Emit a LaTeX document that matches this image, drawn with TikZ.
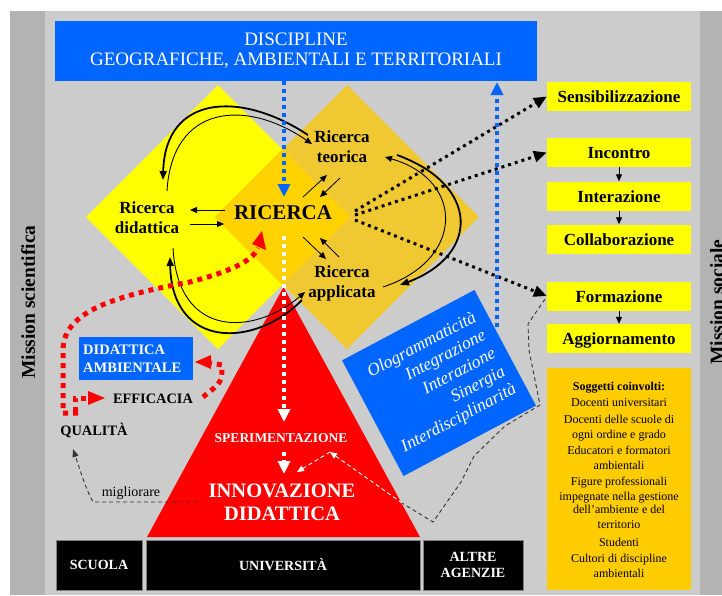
\documentclass[tikz,border=0pt]{standalone}
\usepackage{fontspec}
\setmainfont{Liberation Serif}
\usetikzlibrary{arrows.meta,calc}
\definecolor{bgc}{HTML}{CCCCCC}
\definecolor{stripc}{HTML}{B3B3B3}
\definecolor{blu}{HTML}{0066FF}
\definecolor{yel}{HTML}{FFFF00}
\definecolor{gold}{HTML}{F0C832}
\definecolor{midc}{HTML}{FFD200}
\definecolor{sog}{HTML}{FFCC00}
\newcommand{\fsz}[2]{\fontsize{#1}{#2}\selectfont}
\begin{document}
\begin{tikzpicture}[x=1pt,y=-1pt,
  tipS/.style={-{Triangle[length=7pt,width=6pt]}},
  thinarr/.style={line width=0.8pt,tipS},
  rbox/.style={fill=yel,minimum width=144,minimum height=29,inner sep=0,text height=12,text depth=0,font=\bfseries\fsz{17}{20}},
  bbox/.style={fill=black,draw=gray,line width=0.8pt,minimum height=50,inner sep=0,text=white,align=center,font=\bfseries\fsz{14}{16}},
  bdot/.style={line width=3pt,dash pattern=on 3pt off 4pt,-{Triangle[length=13pt,width=11pt]}},
  bludot/.style={blu,line width=4pt,dash pattern=on 4pt off 4pt,-{Triangle[length=13pt,width=12pt]}},
  whdot/.style={white,line width=4pt,dash pattern=on 4pt off 4pt,-{Triangle[length=13pt,width=12pt]}},
  reddot/.style={red,line width=5pt,dash pattern=on 5pt off 5pt},
  redtip/.style={-{Triangle[length=16pt,width=14pt]}},
  ddash/.style={black!80,line width=0.9pt,dash pattern=on 4pt off 3pt},
  wdash/.style={white,line width=0.9pt,dash pattern=on 4pt off 3pt},
  lab/.style={inner sep=0,font=\bfseries\fsz{17}{20},align=center},
  caps/.style={inner sep=0,font=\bfseries\fsz{14.4}{16}},
  sogt/.style={inner sep=0,text height=8.5,text depth=2.5,font=\fsz{12}{13}}
]
\useasboundingbox (0,0) rectangle (722,595);
\fill[white] (0,0) rectangle (722,595);
\fill[bgc] (10,11) rectangle (722,595);
\fill[stripc] (10,11) rectangle (45,595);
\fill[stripc] (700,11) rectangle (722,595);

% mission labels
\node[rotate=90,inner sep=0,font=\bfseries\fsz{19.5}{20}] (ms) at (28,302) {Mission scientifica};
\node[rotate=90,inner sep=0,font=\bfseries\fsz{19.5}{20}] (mso) at (717,302) {Mission sociale};

% top blue box
\node[fill=blu,minimum width=482,minimum height=60,inner sep=0,text=white,align=center,font=\fsz{19}{20}] (disc) at (296,51) {DISCIPLINE\\GEOGRAFICHE, AMBIENTALI E TERRITORIALI};

% diamonds
\fill[yel] (86,217) -- (218,85) -- (350,217) -- (218,349) -- cycle;
\fill[gold] (215,217) -- (347,85) -- (479,217) -- (347,349) -- cycle;
\fill[midc] (215,217) -- (282.5,149.5) -- (350,217) -- (282.5,284.5) -- cycle;

% rotated blue box
\node[fill=blu,rotate=28,minimum width=150,minimum height=131,inner sep=0,text width=126,align=right,text=white,font=\itshape\fsz{17.5}{20.5}] (olo) at (439,383) {Ologrammaticità\\Integrazione\\Interazione\\Sinergia\\Interdisciplinarità};

% red triangle
\fill[red] (147,537) -- (283.5,287) -- (420,537) -- cycle;

% bottom black boxes
\node[bbox,minimum width=86] (scuola) at (99,565) {SCUOLA};
\node[bbox,minimum width=274] (univ) at (283,565) {UNIVERSITÀ};
\node[bbox,minimum width=100] (altre) at (473,565) {ALTRE\\AGENZIE};

% right boxes
\node[rbox] (sens) at (619,96.5) {Sensibilizzazione};
\node[rbox] (inc) at (619,152.5) {Incontro};
\node[rbox] (inter) at (619,196) {Interazione};
\node[rbox] (coll) at (619,239) {Collaborazione};
\node[rbox] (form) at (619,296) {Formazione};
\node[rbox] (agg) at (619,338.5) {Aggiornamento};
\node[fill=sog,minimum width=144,minimum height=222,inner sep=0] (sogb) at (619,479) {};
\node[sogt,font=\bfseries\fsz{12}{13}] (s0) at (619,387) {Soggetti coinvolti:};
\foreach \t/\yy in {Docenti universitari/403,Docenti delle scuole di/420,ogni ordine e grado/435,Educatori e formatori/451,ambientali/466,Figure professionali/482,impegnate nella gestione/497,dell’ambiente e del/510,territorio/525,Studenti/543,Cultori di discipline/559,ambientali/574}
  {\node[sogt] (s\yy) at (619,\yy) {\t};}
\draw[thinarr] (inc.south) -- (inter.north);
\draw[thinarr] (inter.south) -- (coll.north);
\draw[thinarr] (form.south) -- (agg.north);

% central labels
\node[lab] (did) at (147,218) {Ricerca\\didattica};
\node[lab,font=\bfseries\fsz{21}{22}] (ric) at (283,213) {RICERCA};
\node[lab] (teo) at (342,147) {Ricerca\\teorica};
\node[lab] (app) at (342,283) {Ricerca\\applicata};

% small arrows around RICERCA
\draw[thinarr] (225,210) -- (190,210);
\draw[thinarr] (190,224) -- (224,224);
\draw[thinarr] (303,197) -- (327,175);
\draw[thinarr] (340,178) -- (320,197);
\draw[thinarr] (303,237) -- (326,259);
\draw[thinarr] (339,257) -- (320,238);

% curved arrows
\draw[line width=1.8pt,-{Triangle[length=9pt,width=7pt]}] (308,135) .. controls (240,90) and (165,95) .. (163,180);
\draw[line width=0.9pt,tipS] (167,191) .. controls (172,105) and (245,98) .. (312,144);
\draw[line width=1.8pt,-{Triangle[length=9pt,width=7pt]}] (397,155) .. controls (480,185) and (480,255) .. (400,285);
\draw[line width=0.9pt,tipS] (383,287) .. controls (465,260) and (465,180) .. (385,157);
\draw[line width=0.9pt,tipS] (173,248) .. controls (178,340) and (255,335) .. (305,292);
\draw[line width=1.8pt,-{Triangle[length=9pt,width=7pt]}] (302,300) .. controls (255,348) and (172,350) .. (170,257);

% black dotted
\draw[bdot] (355,211) -- (sens.west);
\draw[bdot] (355,215) -- (inc.west);
\draw[bdot] (355,220) -- (form.west);

% blue dotted
\draw[bludot] (284,81) -- (284,197);
\draw[bludot] (497,327) -- (497,82);

% white dotted in triangle
\draw[whdot] (284,236) -- (284,422);
\node[inner sep=0,text=white,font=\bfseries\fsz{13.5}{14}] (sper) at (281,438) {SPERIMENTAZIONE};
\draw[whdot] (284,452) -- (284,474);
\node[inner sep=0,text=white,align=center,font=\bfseries\fsz{20.5}{23}] (innov) at (282,502) {INNOVAZIONE\\DIDATTICA};

% dashed path from Formazione
\draw[ddash] (545,299) -- (528,324) -- (529,350) -- (540,405) -- (505,426) -- (474,456) -- (461,482) -- (433,522) -- (402,503);
\draw[wdash,tipS] (402,503) -- (330,452);
\draw[wdash,tipS] (330,452) -- (297,472);

% left labels
\node[fill=blu,minimum width=114,minimum height=43,inner sep=0] (dab) at (136,358.5) {};
\node[inner sep=0,anchor=west,text=white,align=left,font=\bfseries\fsz{14.5}{18}] (dabt) at (83,359) {DIDATTICA\\AMBIENTALE};
\node[caps] (eff) at (153,399) {EFFICACIA};
\node[caps] (qual) at (94,430) {QUALITÀ};
\node[inner sep=0,font=\fsz{14}{15}] (mig) at (131,493) {migliorare};
\draw[ddash,-{Triangle[length=8pt,width=6pt]}] (197,502) -- (93,502) .. controls (86,488) .. (73,449);

% red dotted paths
\draw[reddot] (78,413) -- (63,413) -- (63,350) .. controls (63,310) and (120,295) .. (190,282) .. controls (228,272) and (252,262) .. (258,248);
\fill[red] (262,231) -- (252,244) -- (266,250) -- cycle;
\draw[reddot] (75,412) -- (75,398) -- (88,398);
\fill[red] (105,398) -- (88,391) -- (88,405) -- cycle;
\draw[reddot] (203,397) .. controls (222,382) .. (222,365) -- (211,363);
\fill[red] (195,362) -- (211,355) -- (211,369) -- cycle;
\end{tikzpicture}
\end{document}
